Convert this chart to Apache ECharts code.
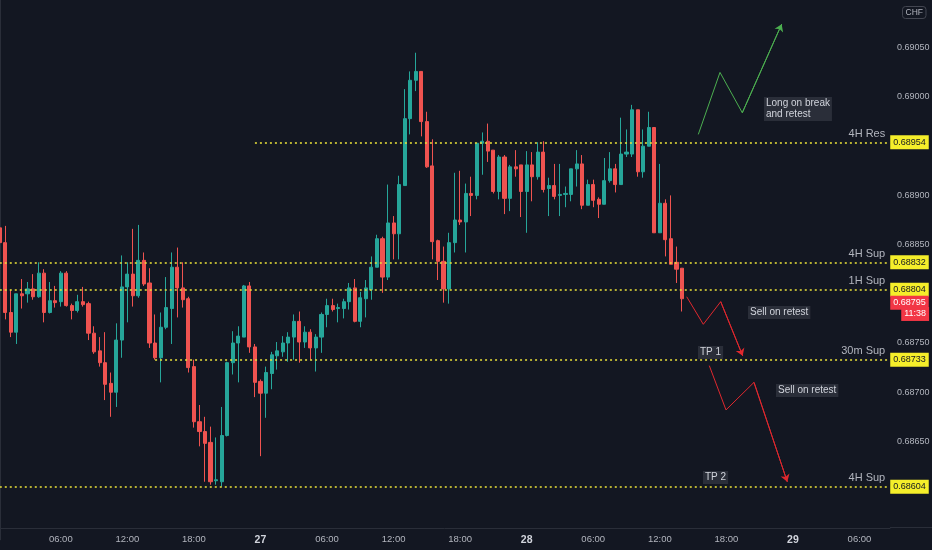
<!DOCTYPE html>
<html>
<head>
<meta charset="utf-8">
<script src="https://cdn.jsdelivr.net/npm/echarts@6/dist/echarts.min.js"></script>
<style>
  html, body { margin: 0; padding: 0; background: #131722; }
  #main { width: 932px; height: 550px; }
</style>
</head>
<body>
<div id="main"></div>
<script>
// USDCHF 30m bars, 26th 00:30 -> 28th 14:00
var opens = [
  0.68867,0.68852,0.68781,0.68761,0.68800,0.68800,0.68805,0.68797,0.68821,0.68781,
  0.68793,0.68792,0.68821,0.68788,0.68783,0.68792,0.68790,0.68760,0.68742,0.68730,
  0.68709,0.68700,0.68753,0.68807,0.68820,0.68798,0.68834,0.68811,0.68750,0.68735,
  0.68766,0.68785,0.68827,0.68806,0.68795,0.68726,0.68670,0.68660,0.68649,0.68610,
  0.68609,0.68656,0.68730,0.68750,0.68756,0.68808,0.68746,0.68711,0.68699,0.68719,
  0.68737,0.68741,0.68750,0.68756,0.68772,0.68751,0.68761,0.68745,0.68756,0.68779,
  0.68788,0.68785,0.68785,0.68792,0.68806,0.68772,0.68795,0.68804,0.68827,0.68856,
  0.68817,0.68872,0.68861,0.68910,0.68978,0.69017,0.69026,0.68975,0.68930,0.68854,
  0.68833,0.68805,0.68852,0.68875,0.68873,0.68902,0.68900,0.68953,0.68955,0.68946,
  0.68904,0.68939,0.68897,0.68929,0.68931,0.68904,0.68931,0.68919,0.68944,0.68907,
  0.68910,0.68900,0.68901,0.68901,0.68927,0.68932,0.68890,0.68911,0.68896,0.68891,
  0.68915,0.68927,0.68911,0.68942,0.68942,0.68987,0.68924,0.68950,0.68969,0.68862,
  0.68892,0.68856,0.68832,0.68826
];
var highs = [
  0.68869,0.68869,0.68804,0.68800,0.68815,0.68812,0.68820,0.68832,0.68825,0.68812,
  0.68808,0.68823,0.68823,0.68790,0.68799,0.68807,0.68792,0.68767,0.68756,0.68761,
  0.68720,0.68770,0.68839,0.68832,0.68866,0.68870,0.68842,0.68826,0.68779,0.68781,
  0.68817,0.68842,0.68847,0.68832,0.68797,0.68733,0.68687,0.68675,0.68665,0.68654,
  0.68685,0.68731,0.68762,0.68767,0.68809,0.68812,0.68749,0.68713,0.68726,0.68741,
  0.68751,0.68757,0.68761,0.68779,0.68782,0.68767,0.68764,0.68759,0.68781,0.68795,
  0.68795,0.68790,0.68795,0.68811,0.68815,0.68802,0.68814,0.68838,0.68860,0.68858,
  0.68911,0.68879,0.68920,0.69008,0.69026,0.69045,0.69026,0.68985,0.68957,0.68855,
  0.68848,0.68862,0.68923,0.68925,0.68912,0.68919,0.68953,0.68964,0.68973,0.68946,
  0.68941,0.68941,0.68931,0.68946,0.68931,0.68945,0.68944,0.68954,0.68955,0.68918,
  0.68932,0.68932,0.68909,0.68927,0.68946,0.68941,0.68916,0.68916,0.68898,0.68938,
  0.68944,0.68932,0.68979,0.68967,0.68992,0.68987,0.68967,0.68985,0.68969,0.68932,
  0.68896,0.68900,0.68848,0.68826
];
var lows = [
  0.68850,0.68774,0.68756,0.68749,0.68785,0.68791,0.68794,0.68796,0.68771,0.68780,
  0.68786,0.68787,0.68787,0.68774,0.68781,0.68787,0.68753,0.68739,0.68726,0.68692,
  0.68675,0.68685,0.68735,0.68771,0.68787,0.68796,0.68808,0.68745,0.68733,0.68710,
  0.68764,0.68749,0.68776,0.68786,0.68720,0.68664,0.68645,0.68609,0.68606,0.68606,
  0.68604,0.68655,0.68718,0.68710,0.68756,0.68740,0.68695,0.68635,0.68674,0.68703,
  0.68723,0.68736,0.68731,0.68733,0.68730,0.68745,0.68733,0.68721,0.68740,0.68766,
  0.68782,0.68771,0.68775,0.68784,0.68771,0.68766,0.68776,0.68794,0.68827,0.68801,
  0.68814,0.68835,0.68835,0.68910,0.68962,0.69006,0.68960,0.68928,0.68835,0.68814,
  0.68791,0.68790,0.68842,0.68870,0.68842,0.68879,0.68896,0.68921,0.68934,0.68902,
  0.68896,0.68881,0.68884,0.68919,0.68878,0.68862,0.68894,0.68916,0.68903,0.68879,
  0.68896,0.68879,0.68888,0.68894,0.68909,0.68886,0.68890,0.68888,0.68877,0.68891,
  0.68913,0.68903,0.68911,0.68939,0.68939,0.68919,0.68918,0.68950,0.68862,0.68862,
  0.68838,0.68830,0.68811,0.68782
];
var closes = [
  0.68852,0.68781,0.68761,0.68800,0.68798,0.68805,0.68797,0.68821,0.68781,0.68793,
  0.68791,0.68821,0.68788,0.68783,0.68792,0.68789,0.68760,0.68741,0.68730,0.68708,
  0.68700,0.68753,0.68807,0.68820,0.68798,0.68834,0.68810,0.68750,0.68735,0.68766,
  0.68786,0.68827,0.68806,0.68794,0.68725,0.68670,0.68660,0.68648,0.68609,0.68611,
  0.68656,0.68730,0.68750,0.68757,0.68808,0.68746,0.68710,0.68699,0.68720,0.68738,
  0.68742,0.68750,0.68756,0.68772,0.68751,0.68761,0.68745,0.68756,0.68779,0.68788,
  0.68784,0.68786,0.68792,0.68806,0.68772,0.68796,0.68806,0.68827,0.68856,0.68817,
  0.68872,0.68861,0.68911,0.68978,0.69017,0.69026,0.68975,0.68929,0.68853,0.68833,
  0.68805,0.68852,0.68875,0.68873,0.68902,0.68900,0.68953,0.68955,0.68945,0.68904,
  0.68939,0.68897,0.68929,0.68927,0.68904,0.68931,0.68919,0.68944,0.68906,0.68910,
  0.68899,0.68901,0.68902,0.68927,0.68932,0.68890,0.68911,0.68895,0.68891,0.68915,
  0.68927,0.68911,0.68942,0.68944,0.68987,0.68924,0.68950,0.68969,0.68862,0.68892,
  0.68855,0.68830,0.68825,0.68795
];

// horizontal levels drawn on the chart
var levelPrices = [0.68954, 0.68832, 0.68804, 0.68733, 0.68604];
var levelNames  = ['4H Res', '4H Sup', '1H Sup', '30m Sup', '4H Sup'];
var levelStart  = [46, 0, 0, 28, 0];   // bar index where each line begins
var lastPrice = 0.68795;
var countdown = '11:38';

// zigzag drawings: [bar position, price]
var longPath  = [[125.94, 0.68962], [129.85, 0.69025], [133.87, 0.68984], [140.97, 0.69074]];
var sellPath1 = [[123.85, 0.68797], [126.84, 0.68769], [129.98, 0.68792], [133.94, 0.68737]];
var sellPath2 = [[127.92, 0.68727], [130.93, 0.68682], [135.98, 0.68710], [141.98, 0.68609]];

var yTicks = { min: 0.6855, max: 0.6910, step: 0.0005 };

var chartDom = document.getElementById('main');
var myChart = echarts.init(chartDom);

function pad(n) { return n < 10 ? '0' + n : '' + n; }

// 30 minute slots from 26th 00:30 through the empty space on the right
var barTimes = [];
for (var i = 0; i < 161; i++) {
  var m = 30 + i * 30;
  var day = 26 + Math.floor(m / 1440);
  var hh = Math.floor((m % 1440) / 60);
  barTimes.push(day + ' ' + pad(hh) + ':' + pad(m % 60));
}
var lastSlot = barTimes[barTimes.length - 1];

var candles = opens.map(function (o, idx) {
  return [o, closes[idx], lows[idx], highs[idx]];
});

var levelColor = '#ece43a';
var tagColor = '#f5ee2a';
var textColor = '#b2b5be';
var fontFam = '"Liberation Sans", Roboto, sans-serif';
var hidden = { color: 'rgba(0,0,0,0)', width: 0 };

function tag(from, p, txt, bg, fg, dist) {
  return [
    { coord: [from, p], lineStyle: hidden,
      label: { show: true, position: 'end', distance: dist, formatter: txt,
               backgroundColor: bg, color: fg, padding: [3, 3, 2, 3],
               fontSize: 9, fontFamily: fontFam } },
    { coord: [lastSlot, p] }
  ];
}

var lineData = [];
levelPrices.forEach(function (p, k) {
  var from = barTimes[levelStart[k]];
  lineData.push([
    { coord: [from, p],
      label: { show: true, position: 'insideEndTop', formatter: levelNames[k],
               color: textColor, fontSize: 11, fontFamily: fontFam, distance: [2, 3] } },
    { coord: [lastSlot, p] }
  ]);
  lineData.push(tag(from, p, p.toFixed(5), tagColor, '#131722', 3));
});
// last price + bar countdown tags, nudged down so they clear the 1H Sup tag
lineData.push(tag(barTimes[123], lastPrice - 0.00004, lastPrice.toFixed(5), '#f23645', '#ffffff', 3));
lineData.push(tag(barTimes[123], lastPrice - 0.000155, countdown, '#f23645', '#ffffff', 14));

function noteBox(x, y, txt) {
  return {
    type: 'text', left: x, top: y, z: 100, silent: true,
    style: {
      text: txt, fill: '#d1d4dc', font: '10px ' + fontFam, lineHeight: 11,
      backgroundColor: '#2a2e39', padding: [1, 2, 1, 2]
    }
  };
}

var option = {
  backgroundColor: '#131722',
  animation: false,
  grid: { left: -3, right: 42, top: -1.4, bottom: 10.2, outerBoundsMode: 'none', containLabel: false },
  xAxis: [{
    type: 'category',
    data: barTimes,
    boundaryGap: true,
    offset: -12,
    axisLine: { lineStyle: { color: '#2a2e39' } },
    axisTick: { show: false },
    splitLine: { show: false },
    axisLabel: {
      color: textColor, fontSize: 9.5, fontFamily: fontFam, margin: 7,
      interval: function (idx, val) {
        var t = val.split(' ')[1];
        var h = parseInt(t, 10);
        return t.slice(3) === '00' && h % 6 === 0;
      },
      formatter: function (val) {
        var parts = val.split(' ');
        return parts[1] === '00:00' ? '{d|' + parts[0] + '}' : parts[1];
      },
      rich: { d: { fontWeight: 'bold', fontSize: 10.5, color: '#d1d4dc', fontFamily: fontFam } }
    }
  }, {
    type: 'value', min: -0.5, max: 160.5, show: false
  }],
  yAxis: {
    type: 'value',
    position: 'right',
    scale: true,
    min: yTicks.min,
    max: yTicks.max,
    interval: yTicks.step,
    axisLine: { show: true, lineStyle: { color: '#2a2e39' } },
    axisTick: { show: false },
    splitLine: { show: false },
    axisLabel: {
      color: textColor, fontSize: 9, fontFamily: fontFam, margin: 7,
      formatter: function (v) {
        var s = v.toFixed(5);
        // hidden behind tags or off the visible area
        if (['0.68950', '0.68800', '0.68600', '0.68550', '0.69100'].indexOf(s) >= 0) return '';
        return s;
      }
    }
  },
  series: [
    {
      name: 'USDCHF',
      type: 'candlestick',
      data: candles,
      barWidth: 3.6,
      itemStyle: {
        color: '#26a69a', color0: '#ef5350',
        borderColor: '#26a69a', borderColor0: '#ef5350', borderWidth: 1
      },
      markLine: {
        silent: true,
        symbol: ['none', 'none'],
        animation: false,
        lineStyle: { color: levelColor, type: [2, 3], width: 1.5 },
        data: lineData
      }
    },
    {
      type: 'line', xAxisIndex: 1, data: longPath, symbol: 'none', silent: true,
      lineStyle: { color: '#4caf50', width: 1 }
    },
    {
      type: 'line', xAxisIndex: 1, data: sellPath1, symbol: 'none', silent: true,
      lineStyle: { color: '#e0282e', width: 1 }
    },
    {
      type: 'line', xAxisIndex: 1, data: sellPath2, symbol: 'none', silent: true,
      lineStyle: { color: '#e0282e', width: 1 }
    },
    {
      type: 'lines', coordinateSystem: 'cartesian2d', xAxisIndex: 1, silent: true,
      symbol: ['none', 'arrow'], symbolSize: 7,
      lineStyle: { width: 1, opacity: 1 },
      data: [
        { coords: [longPath[2], longPath[3]], lineStyle: { color: '#4caf50' } },
        { coords: [sellPath1[2], sellPath1[3]], lineStyle: { color: '#e0282e' } },
        { coords: [sellPath2[2], sellPath2[3]], lineStyle: { color: '#e0282e' } }
      ]
    }
  ],
  graphic: [
    {
      type: 'line', silent: true,
      shape: { x1: 890, y1: 527.5, x2: 932, y2: 527.5 },
      style: { stroke: '#2a2e39', lineWidth: 1 }
    },
    {
      type: 'text', left: 902, top: 6, silent: true,
      style: {
        text: 'CHF', fill: textColor, font: '8.5px ' + fontFam,
        padding: [2, 3, 1, 3], borderColor: '#434651', borderWidth: 1, borderRadius: 3
      }
    },
    noteBox(764, 97, 'Long on break\nand retest'),
    noteBox(748, 306, 'Sell on retest'),
    noteBox(698, 346, 'TP 1'),
    noteBox(776, 384, 'Sell on retest'),
    noteBox(703, 471, 'TP 2')
  ]
};

option && myChart.setOption(option);
</script>
</body>
</html>
